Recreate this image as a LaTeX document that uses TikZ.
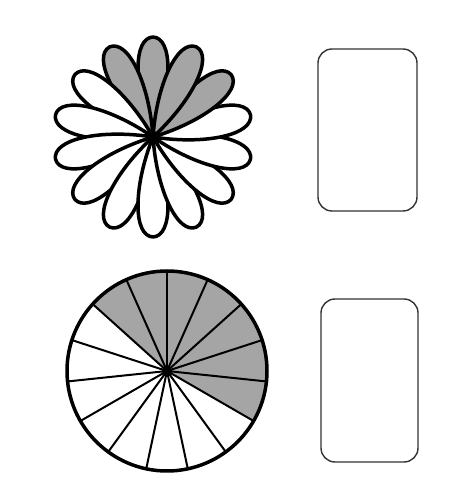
\documentclass[tikz,border=0pt]{standalone}
\begin{document}
\begin{tikzpicture}[x=1pt,y=1pt,line join=round]
\definecolor{petalgray}{RGB}{165,165,165}
\tikzset{
  petal/.style={draw=black,line width=3.5pt},
  spoke/.style={draw=black,line width=2pt},
  card/.style={draw=black!80,line width=1.4pt,rounded corners=14pt}
}
\useasboundingbox (0,0) rectangle (466,501);
\fill[white] (0,0) rectangle (466,501);
% flower
\begin{scope}[shift={(153,364)}]
  \foreach \k in {0,...,13}{
    \pgfmathsetmacro{\ang}{90+\k*360/14}
    \ifnum\k<2 \def\fc{petalgray}\else\ifnum\k>11 \def\fc{petalgray}\else\def\fc{white}\fi\fi
    \begin{scope}[rotate=\ang]
      \path[petal,fill=\fc] (0,0) .. controls (50,20) and (99,20) .. (100,0) .. controls (99,-20) and (50,-20) .. (0,0);
    \end{scope}
  }
  \fill[black] (0,0) circle (6);
\end{scope}
% pie
\begin{scope}[shift={(167,130)}]
  \fill[petalgray] (0,0) -- (138:100) arc (138:-30:100) -- cycle;
  \foreach \k in {0,...,14}{
    \draw[spoke] (0,0) -- ({90-\k*24}:100);
  }
  \draw[black,line width=3.5pt] (0,0) circle (100);
  \fill[black] (0,0) circle (5);
\end{scope}
% cards
\draw[card] (318,290) rectangle (417,452);
\draw[card] (321,39) rectangle (418,202);
\end{tikzpicture}
\end{document}
